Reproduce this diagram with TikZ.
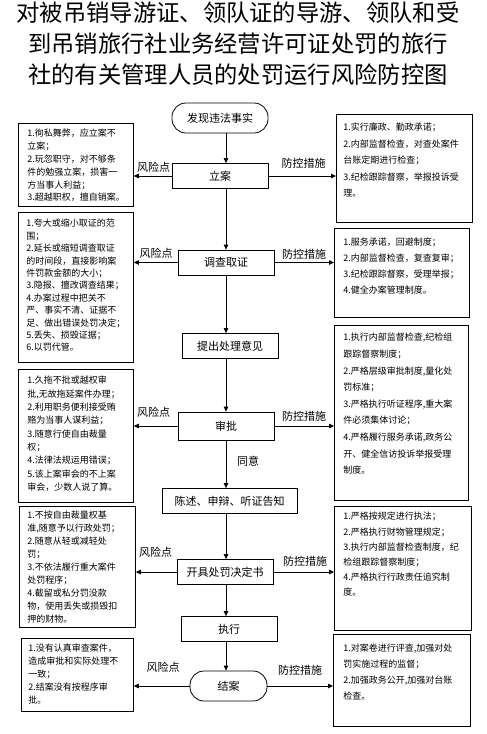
\documentclass[tikz,border=0pt]{standalone}
\usepackage{fontspec}
\setmainfont{Noto Sans CJK SC}
\usetikzlibrary{arrows.meta}

% text of a side box: width, height, top gap, line skip, lines
\newcommand{\boxtext}[5]{%
  \parbox[c][#2pt][t]{#1pt}{\fontsize{9}{#4pt}\selectfont\vspace*{#3pt}#5}}

\tikzset{
  flowbox/.style={draw, line width=0.8pt, minimum height=25pt, inner sep=0pt,
    font=\fontsize{11}{13}\selectfont},
  endbox/.style={flowbox, rounded corners=14pt},
  sidebox/.style={draw, line width=0.8pt, inner ysep=0pt, anchor=north west},
  sidelabel/.style={font=\fontsize{11}{13}\selectfont, inner sep=0pt},
  arr/.style={line width=0.8pt, -{Triangle[length=5pt,width=4.5pt]}}
}

\begin{document}
\begin{tikzpicture}[x=1pt, y=-1pt]
  \fill[white] (0,0) rectangle (487,734);
  \useasboundingbox (0,0) rectangle (487,734);

  % title
  \node[align=center, font=\fontsize{23.3}{31}\selectfont, inner sep=0pt] (title) at (238,44)
    {对被吊销导游证、领队证的导游、领队和受\\到吊销旅行社业务经营许可证处罚的旅行\\社的有关管理人员的处罚运行风险防控图};

  % main flow
  \node[endbox, minimum width=96pt, minimum height=30pt] (faxian) at (220,118) {发现违法事实};
  \node[flowbox, minimum width=96pt] (lian) at (220,176) {立案};
  \node[flowbox, minimum width=96pt] (diaocha) at (226,262.5) {调查取证};
  \node[flowbox, minimum width=96pt] (tichu) at (230,346) {提出处理意见};
  \node[flowbox, minimum width=96pt, minimum height=28pt] (shenpi) at (226,426) {审批};
  \node[flowbox, minimum width=135pt] (chenshu) at (229.5,501) {陈述、申辩、听证告知};
  \node[flowbox, minimum width=96pt] (kaiju) at (225,572) {开具处罚决定书};
  \node[flowbox, minimum width=96pt] (zhixing) at (229,629) {执行};
  \node[endbox, minimum width=77pt, minimum height=30pt] (jiean) at (228.5,686) {结案};

  \coordinate (spine) at (226,0);
  \foreach \a/\b in {faxian/lian, lian/diaocha, diaocha/tichu, tichu/shenpi,
                     shenpi/chenshu, chenshu/kaiju, kaiju/zhixing, zhixing/jiean}
    \draw[arr] (\a.south -| spine) -- (\b.north -| spine);
  \node[sidelabel] (tongyi) at (248,461.5) {同意};

  % risk points (left)
  \node[sidebox, inner xsep=9pt] (risk1) at (18,123) {\boxtext{97}{83}{5.9}{12.8}{%
    1.徇私舞弊，应立案不\\立案；\\2.玩忽职守，对不够条\\件的勉强立案，损害一\\方当事人利益；\\3.超越职权，擅自销案。}};
  \node[sidebox, inner xsep=8pt] (risk2) at (18,212) {\boxtext{99}{150}{6.9}{12.4}{%
    1.夸大或缩小取证的范\\围；\\2.延长或缩短调查取证\\的时间段，直接影响案\\件罚款金额的大小；\\3.隐报、擅改调查结果；\\4.办案过程中把关不\\严、事实不清、证据不\\足、做出错误处罚决定；\\5.丢失、损毁证据；\\6.以罚代管。}};
  \node[sidebox, inner xsep=9pt] (risk3) at (18,369) {\boxtext{97}{133}{6.9}{13.3}{%
    1.久拖不批或越权审\\批,无故拖延案件办理；\\2.利用职务便利接受贿\\赂为当事人谋利益；\\3.随意行使自由裁量\\权；\\4.法律法规运用错误；\\5.该上案审会的不上案\\审会，少数人说了算。}};
  \node[sidebox, inner xsep=8pt] (risk4) at (19,506) {\boxtext{100}{121}{4.9}{12.9}{%
    1.不按自由裁量权基\\准,随意予以行政处罚；\\2.随意从轻或减轻处\\罚；\\3.不依法履行重大案件\\处罚程序；\\4.截留或私分罚没款\\物，使用丢失或损毁扣\\押的财物。}};
  \node[sidebox, inner xsep=7pt] (risk5) at (21,638) {\boxtext{98}{73}{5.9}{13}{%
    1.没有认真审查案件，\\造成审批和实际处理不\\一致；\\2.结案没有按程序审\\批。}};

  % control measures (right)
  \node[sidebox, inner xsep=7pt] (ctrl1) at (336,114) {\boxtext{122}{108}{8.9}{16.5}{%
    1.实行廉政、勤政承诺；\\2.内部监督检查，对查处案件\\台账定期进行检查；\\3.纪检跟踪督察，举报投诉受\\理。}};
  \node[sidebox, inner xsep=9pt] (ctrl2) at (334,228) {\boxtext{117}{89}{9.9}{16}{%
    1.服务承诺，回避制度；\\2.内部监督检查，复查复审；\\3.纪检跟踪督察，受理举报；\\4.健全办案管理制度。}};
  \node[sidebox, inner xsep=9pt] (ctrl3) at (334,325) {\boxtext{116}{175}{7.9}{16.6}{%
    1.执行内部监督检查,纪检组\\跟踪督察制度；\\2.严格层级审批制度,量化处\\罚标准；\\3.严格执行听证程序,重大案\\件必须集体讨论；\\4.严格履行服务承诺,政务公\\开、健全信访投诉举报受理\\制度。}};
  \node[sidebox, inner xsep=9pt] (ctrl4) at (334,506) {\boxtext{119}{124}{5.9}{15.2}{%
    1.严格按规定进行执法；\\2.严格执行财物管理规定；\\3.执行内部监督检查制度，纪\\检组跟踪督察制度；\\4.严格执行行政责任追究制\\度。}};
  \node[sidebox, inner xsep=10pt] (ctrl5) at (333,634) {\boxtext{117}{92}{9.9}{15.7}{%
    1.对案卷进行评查,加强对处\\罚实施过程的监督；\\2.加强政务公开,加强对台账\\检查。}};

  % side connectors
  \foreach \s/\n in {lian/1, diaocha/2, shenpi/3, kaiju/4, jiean/5} {
    \draw[arr] (\s.west) -- (\s.west -| risk\n.east);
    \draw[arr] (\s.east) -- (\s.east -| ctrl\n.west);
  }

  % labels
  \node[sidelabel] (rl1) at (153.5,167) {风险点};
  \node[sidelabel] (rl2) at (156,253) {风险点};
  \node[sidelabel] (rl3) at (153.5,412) {风险点};
  \node[sidelabel] (rl4) at (155.5,552) {风险点};
  \node[sidelabel] (rl5) at (163,667) {风险点};
  \node[sidelabel] (cl1) at (303.5,163.5) {防控措施};
  \node[sidelabel] (cl2) at (304,254) {防控措施};
  \node[sidelabel] (cl3) at (304,416) {防控措施};
  \node[sidelabel] (cl4) at (305,561.5) {防控措施};
  \node[sidelabel] (cl5) at (300,670) {防控措施};
\end{tikzpicture}
\end{document}
